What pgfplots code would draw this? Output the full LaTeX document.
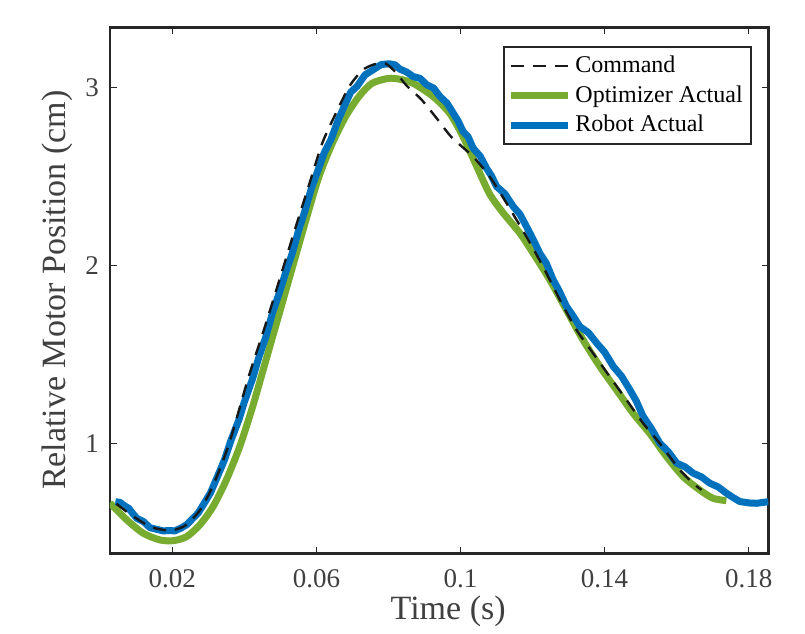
\documentclass[border=0pt]{standalone}
\usepackage{pgfplots}
\pgfplotsset{compat=1.18}
\usepackage{fontspec}
\setmainfont{Liberation Serif}
\definecolor{mgreen}{HTML}{77AC30}
\definecolor{mblue}{HTML}{0072BD}
\definecolor{axgray}{HTML}{262626}
\begin{document}
\begin{tikzpicture}
\begin{axis}[
  name=ax,
  scale only axis,
  width=329.2pt, height=263pt,
  xmin=0.0027, xmax=0.18544,
  ymin=0.3824, ymax=3.337,
  xtick={0.02,0.06,0.1,0.14,0.18},
  xticklabels={0.02,0.06,0.1,0.14,0.18},
  ytick={1,2,3},
  /pgf/number format/assume math mode=true,
  ticklabel style={font=\fontsize{13.5}{15}\selectfont, text=black!75},
  xticklabel style={yshift=-4.5pt},
  yticklabel style={xshift=-2pt},
  major tick length=3.3pt,
  tick style={axgray, line width=0.5pt},
  axis line style={axgray, line width=1.3pt},
  xlabel={Time (s)},
  ylabel={Relative Motor Position (cm)},
  label style={font=\fontsize{17}{19}\selectfont, text=black!75},
  xlabel style={at={(axis description cs:0.5137,-0.11)}, anchor=center},
  ylabel style={at={(axis description cs:-0.0803,0.5)}, anchor=center},
  legend style={at={(axis description cs:0.9748,0.9645)}, anchor=north east,
    font=\fontsize{12}{14}\selectfont, draw=axgray, line width=1pt,
    cells={anchor=west}, row sep=1pt, inner xsep=2pt, inner ysep=2.5pt},
  legend cell align=left,
  legend image code/.code={\draw[#1] (0cm,0cm) -- (1cm,0cm);},
]
\addlegendimage{black!90, line width=1.2pt, dash pattern=on 6.5pt off 4.5pt}
\addlegendentry{Command}
\addlegendimage{mgreen, line width=3.5pt}
\addlegendentry{Optimizer Actual}
\addlegendimage{mblue, line width=3.5pt}
\addlegendentry{Robot Actual}

\addplot[forget plot, mgreen, line width=3.5pt, smooth, tension=0.45] coordinates {
(0.0027,0.665) (0.0074,0.569) (0.0120,0.494) (0.0166,0.457) (0.0203,0.453)
(0.0240,0.476) (0.0276,0.541) (0.0313,0.644) (0.0350,0.794) (0.0387,0.981)
(0.0423,1.206) (0.0460,1.468) (0.0497,1.730) (0.0534,1.993) (0.0571,2.255)
(0.0607,2.498) (0.0644,2.685) (0.0681,2.835) (0.0718,2.948) (0.0754,3.022)
(0.0800,3.050) (0.0832,3.045) (0.0869,3.022) (0.0924,2.948) (0.0970,2.854)
(0.1007,2.723) (0.1044,2.560) (0.1081,2.400) (0.1118,2.295) (0.1165,2.180)
(0.1202,2.067) (0.1248,1.918) (0.1294,1.749) (0.1340,1.581) (0.1387,1.431)
(0.1433,1.300) (0.1479,1.169) (0.1525,1.056) (0.1572,0.925) (0.1618,0.813)
(0.1664,0.738) (0.1701,0.691) (0.1738,0.678)
};

\addplot[forget plot, mblue, line width=3.5pt, line join=round] coordinates {
(0.0042,0.672) (0.0055,0.668) (0.0068,0.648) (0.0079,0.635) (0.0090,0.606)
(0.0102,0.578) (0.0120,0.560) (0.0138,0.526) (0.0158,0.516) (0.0175,0.508)
(0.0192,0.510) (0.0207,0.508) (0.0225,0.525) (0.0240,0.543) (0.0258,0.580)
(0.0272,0.609) (0.0290,0.668) (0.0306,0.722) (0.0325,0.812) (0.0345,0.908)
(0.0362,1.012) (0.0385,1.133) (0.0400,1.232) (0.0422,1.358) (0.0440,1.482)
(0.0460,1.600) (0.0478,1.732) (0.0497,1.845) (0.0515,1.962) (0.0533,2.068)
(0.0550,2.192) (0.0569,2.312) (0.0586,2.432) (0.0605,2.537) (0.0622,2.634)
(0.0640,2.705) (0.0660,2.814) (0.0677,2.892) (0.0695,2.972) (0.0713,3.006)
(0.0735,3.070) (0.0757,3.098) (0.0780,3.128) (0.0803,3.132) (0.0818,3.126)
(0.0832,3.102) (0.0850,3.086) (0.0869,3.060) (0.0888,3.050) (0.0906,3.014)
(0.0925,2.996) (0.0943,2.948) (0.0962,2.912) (0.0980,2.854) (0.0993,2.812)
(0.1007,2.752) (0.1021,2.722) (0.1035,2.658) (0.1055,2.612) (0.1072,2.546)
(0.1086,2.502) (0.1100,2.443) (0.1123,2.402) (0.1146,2.331) (0.1165,2.287)
(0.1183,2.218) (0.1200,2.152) (0.1220,2.068) (0.1238,2.012) (0.1257,1.919)
(0.1275,1.852) (0.1294,1.769) (0.1312,1.717) (0.1331,1.656) (0.1355,1.622)
(0.1378,1.563) (0.1400,1.512) (0.1424,1.432) (0.1447,1.377) (0.1470,1.301)
(0.1488,1.237) (0.1507,1.151) (0.1530,1.082) (0.1553,1.001) (0.1577,0.952)
(0.1600,0.889) (0.1623,0.868) (0.1646,0.832) (0.1669,0.811) (0.1692,0.776)
(0.1715,0.755) (0.1738,0.720) (0.1757,0.695) (0.1775,0.673) (0.1800,0.665)
(0.1822,0.663) (0.1854,0.672)
};

\addplot[forget plot, black!90, line width=1.2pt, dash pattern=on 6.5pt off 4.5pt, smooth, tension=0.4] coordinates {
(0.0045,0.660) (0.0082,0.603) (0.0138,0.532) (0.0194,0.509) (0.0231,0.532)
(0.0249,0.560) (0.0277,0.625) (0.0305,0.728) (0.0332,0.855) (0.0358,1.000)
(0.0380,1.150) (0.0412,1.375) (0.0457,1.655) (0.0503,1.955) (0.0540,2.199)
(0.0578,2.442) (0.0616,2.685) (0.0654,2.854) (0.0691,3.004) (0.0727,3.095)
(0.0759,3.128) (0.0791,3.134) (0.0819,3.087) (0.0850,3.010) (0.0892,2.930)
(0.0938,2.815) (0.0975,2.720) (0.1035,2.610) (0.1081,2.498) (0.1128,2.348)
(0.1183,2.161) (0.1229,1.993) (0.1276,1.805) (0.1322,1.637) (0.1368,1.506)
(0.1414,1.375) (0.1461,1.243) (0.1507,1.112) (0.1553,1.000) (0.1609,0.850)
(0.1646,0.775) (0.1669,0.738)
};
\end{axis}
\path (ax.south west) ++(-55pt,-37.35pt) coordinate (bl);
\path (ax.north east) ++(18.35pt,13.65pt) coordinate (tr);
\useasboundingbox (bl) rectangle (tr);
\end{tikzpicture}
\end{document}
